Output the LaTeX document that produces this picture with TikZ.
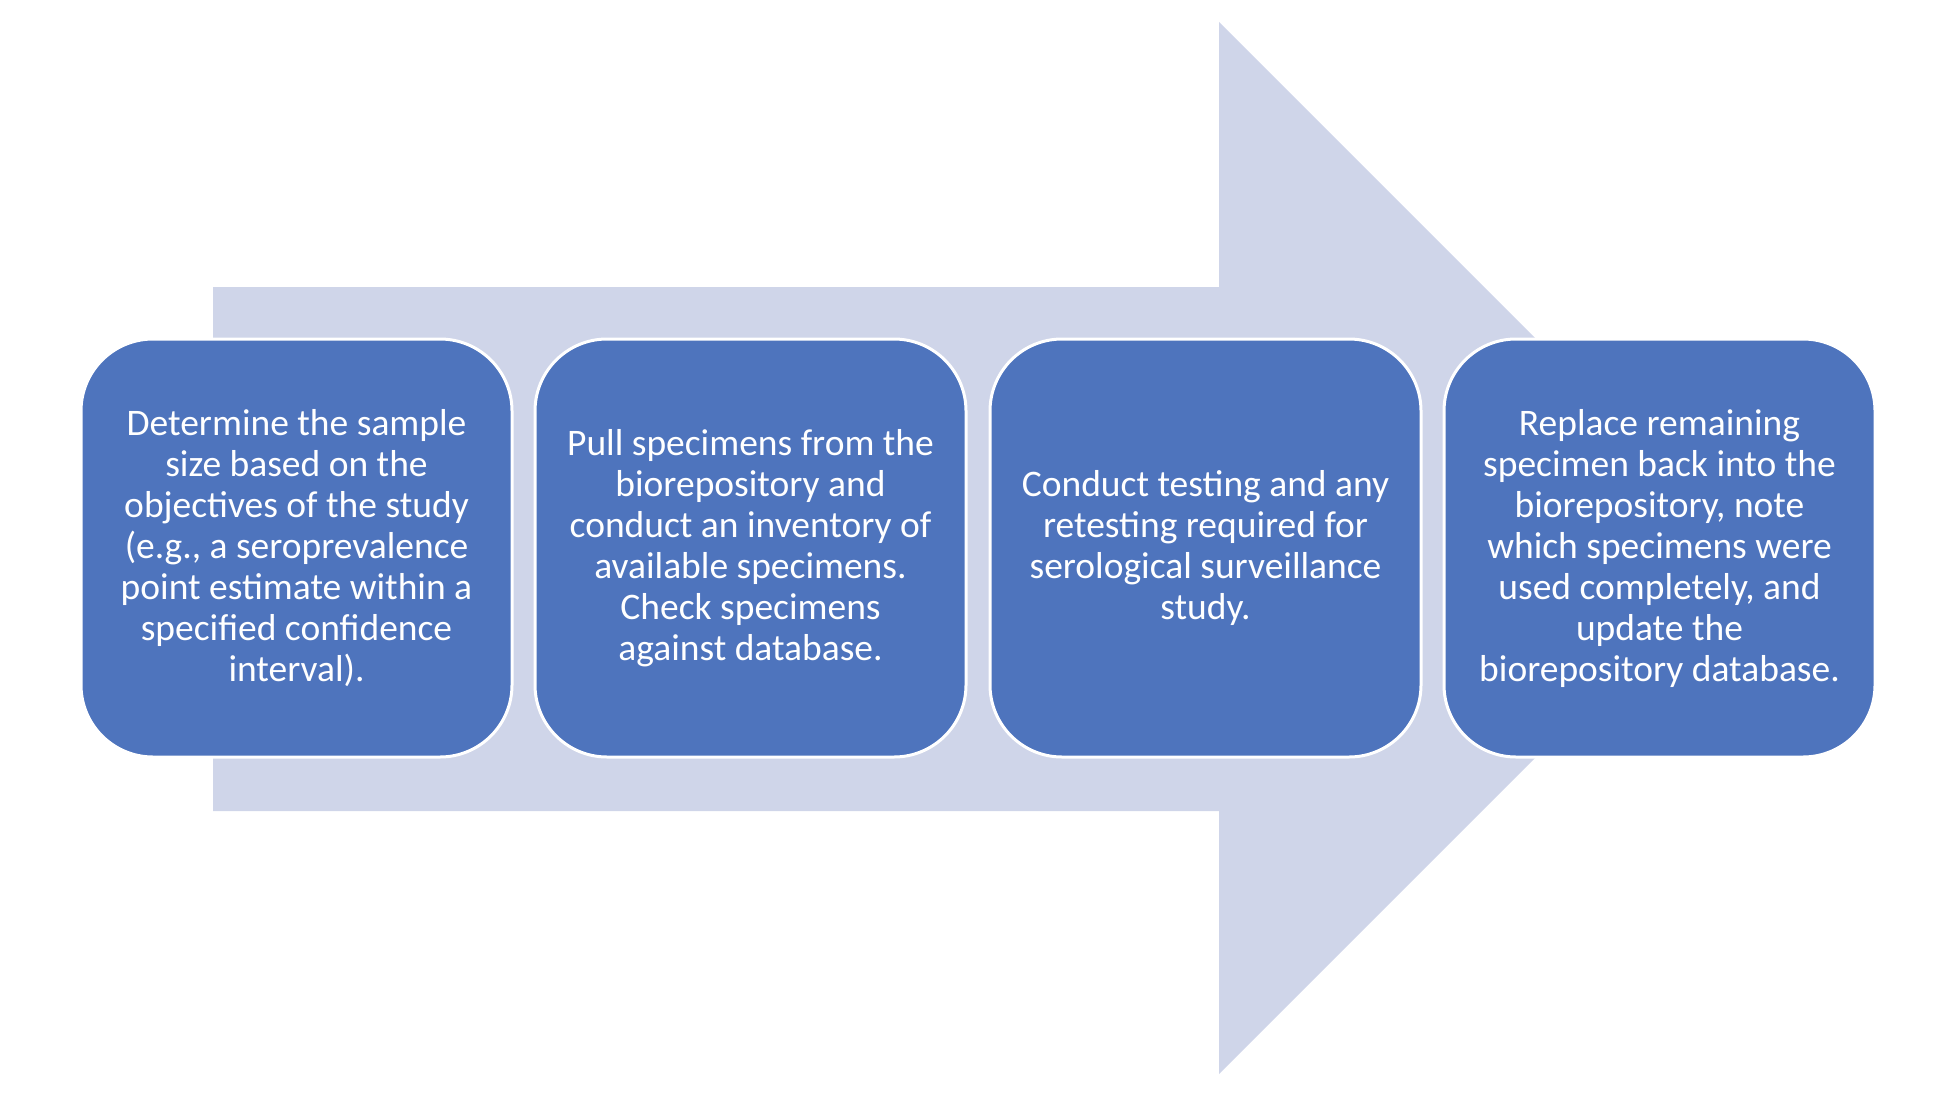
\documentclass[tikz,border=0pt]{standalone}
\usepackage{fontspec}
\setmainfont{Carlito}
\definecolor{boxblue}{HTML}{4E74BD}
\definecolor{arrowblue}{HTML}{CFD5E9}
\begin{document}
\begin{tikzpicture}[x=1pt,y=-1pt,
  stepbox/.style={rectangle, rounded corners=72pt, fill=boxblue, draw=white, line width=3pt,
    minimum width=431pt, minimum height=418pt, align=center, text=white,
    font=\fontsize{37.5}{41}\selectfont, inner sep=0pt}]
\useasboundingbox (0,0) rectangle (1956,1110);
\fill[arrowblue] (213,287) -- (1219,287) -- (1219,22) -- (1745,548) -- (1219,1074) -- (1219,811) -- (213,811) -- cycle;
\node[stepbox] (s1) at (296.5,548) {Determine the sample\\size based on the\\objectives of the study\\(e.g., a seroprevalence\\point estimate within a\\specified confidence\\interval).};
\node[stepbox] (s2) at (750.5,548) {Pull specimens from the\\biorepository and\\conduct an inventory of\\available specimens.\\Check specimens\\against database.};
\node[stepbox] (s3) at (1205.5,548) {Conduct testing and any\\retesting required for\\serological surveillance\\study.};
\node[stepbox] (s4) at (1659.5,548) {Replace remaining\\specimen back into the\\biorepository, note\\which specimens were\\used completely, and\\update the\\biorepository database.};
\end{tikzpicture}
\end{document}
